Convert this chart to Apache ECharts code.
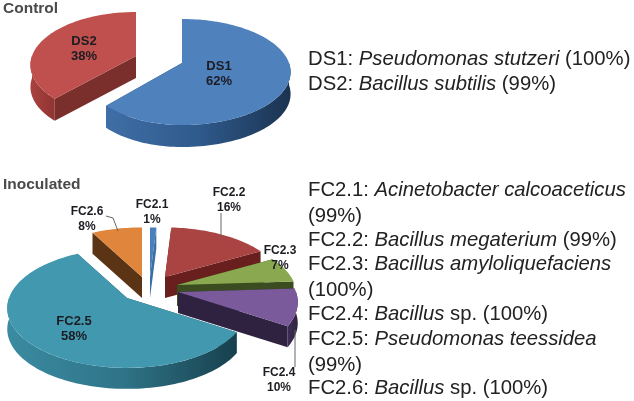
<!DOCTYPE html>
<html>
<head>
<meta charset="utf-8">
<title>Control / Inoculated</title>
<script src="https://cdn.jsdelivr.net/npm/echarts@6/dist/echarts.min.js"></script>
<style>
  html, body { margin: 0; padding: 0; background: #fff; }
  #chart { width: 634px; height: 401px; }
</style>
</head>
<body>
<div id="chart"></div>
<script>
// data
const controlNames = ['DS1', 'DS2']
const controlValues = [62, 38]
const inoculatedNames = ['FC2.1', 'FC2.2', 'FC2.3', 'FC2.4', 'FC2.5', 'FC2.6']
const inoculatedValues = [1, 16, 7, 10, 58, 8]
const panelTitles = ['Control', 'Inoculated']
// [plain, italic, plain]
const controlNotes = [
  ['DS1: ', 'Pseudomonas stutzeri', ' (100%)'],
  ['DS2: ', 'Bacillus subtilis', ' (99%)']
]
const inoculatedNotes = [
  ['FC2.1: ', 'Acinetobacter calcoaceticus', ''],
  ['(99%)', '', ''],
  ['FC2.2: ', 'Bacillus megaterium', ' (99%)'],
  ['FC2.3: ', 'Bacillus amyloliquefaciens', ''],
  ['(100%)', '', ''],
  ['FC2.4: ', 'Bacillus', ' sp. (100%)'],
  ['FC2.5: ', 'Pseudomonas teessidea', ''],
  ['(99%)', '', ''],
  ['FC2.6: ', 'Bacillus', ' sp. (100%)']
]

const FONT = '"Liberation Sans", Arial, sans-serif'

// shape of the tilted discs
const controlDisc = { rx: 107, ry: 51.5, depth: 22, k: 0.17, font: 'bold 13px ' + FONT }
const inoculatedDisc = { rx: 118, ry: 58, depth: 21, k: 0.17, font: 'bold 12px ' + FONT }

// look of each slice: exploded apex, label centre, colours, leader line
const controlLook = [
  { apex: [182, 63], rxLeft: 97, label: [219, 74], top: '#4f81bd', cut: '#2c4d74', wall: ['#3f6ea6', '#2f5a8c', '#1b3350'] },
  { apex: [136, 56], rxLeft: 104, label: [84, 49], top: '#c0504d', cut: '#7a2f2c', wall: ['#a8423f', '#9c3b38', '#8f3532'] }
]
const inoculatedLook = [
  { apex: [150, 277], label: [152, 212], top: '#4a7fbc', cut: '#3a6ea5', wall: ['#3a6ea5', '#3a6ea5'] },
  { apex: [165, 277], label: [229, 200], top: '#a94442', cut: '#681f1e', wall: ['#681f1e', '#681f1e'],
    leader: [[221, 213], [221, 237]] },
  { apex: [177, 285], label: [280, 258], top: '#8aa84f', cut: '#3b4d20', wall: ['#4a5f28', '#3b4d20'] },
  { apex: [178, 292], label: [279, 380], top: '#7a5a9a', cut: '#2e2240', wall: ['#3f2f58', '#2e2240'],
    leader: [[295, 330], [295, 367]], font: 'bold 12px ' + FONT },
  { apex: [127, 298], label: [74, 329], top: '#4198af', cut: '#1e5362', wall: ['#3a8ba1', '#2f7488', '#17404d'], font: 'bold 13px ' + FONT },
  { apex: [142, 277], label: [87, 219], top: '#e0863c', cut: '#5a3415', wall: ['#6a3e19', '#5a3415'],
    leader: [[106, 216], [113, 218], [118, 231]] }
]

// disc point at clockwise angle from 12 o'clock, with a bit of perspective
function discPoint(disc, look, angle) {
  const apex = look.apex
  const u = Math.sin(angle)
  const v = -Math.cos(angle)
  const s = 1 / (1 - disc.k * v)
  const rx = u < 0 && look.rxLeft ? look.rxLeft : disc.rx
  return [apex[0] + rx * u * s, apex[1] + disc.ry * v * s]
}

function arcPoints(disc, look, from, to) {
  const pts = []
  const n = Math.max(2, Math.ceil((to - from) / 0.03))
  for (let i = 0; i <= n; i++) {
    pts.push(discPoint(disc, look, from + (to - from) * i / n))
  }
  return pts
}

function hGradient(colors) {
  return new echarts.graphic.LinearGradient(0, 0, 1, 0, colors.map((c, i) => ({
    offset: i / (colors.length - 1),
    color: c
  })))
}

function drop(pts, depth) {
  return pts.map(p => [p[0], p[1] + depth])
}

function pieSeries(names, values, looks, disc, drawOrder) {
  const total = values.reduce((a, b) => a + b, 0)
  const starts = []
  values.reduce((acc, v, i) => { starts[i] = acc; return acc + v }, 0)
  return {
    type: 'custom',
    coordinateSystem: 'none',
    animation: false,
    silent: true,
    clip: false,
    data: drawOrder.map(i => ({ name: names[i], value: [values[i], i] })),
    renderItem(params, api) {
      const i = api.value(1)
      const look = looks[i]
      const from = starts[i] / total * Math.PI * 2
      const to = (starts[i] + values[i]) / total * Math.PI * 2
      const arc = arcPoints(disc, look, from, to)
      const children = []
      const poly = (points, fill) => children.push({
        type: 'polygon',
        shape: { points },
        style: { fill, stroke: null }
      })
      // cut faces
      const a = discPoint(disc, look, from)
      const b = discPoint(disc, look, to)
      poly([look.apex, a, drop([a], disc.depth)[0], drop([look.apex], disc.depth)[0]], look.cut)
      poly([look.apex, b, drop([b], disc.depth)[0], drop([look.apex], disc.depth)[0]], look.cut)
      // outer wall, only the part that faces the viewer
      const wallFrom = Math.max(from, Math.PI / 2)
      const wallTo = Math.min(to, Math.PI * 1.5)
      if (wallTo > wallFrom) {
        const rim = arcPoints(disc, look, wallFrom, wallTo)
        // left to right across the wall
        poly(rim.concat(drop(rim, disc.depth).reverse()), hGradient(look.wall))
      }
      // top face
      poly([look.apex].concat(arc), look.top)
      if (look.leader) {
        children.push({
          type: 'polyline',
          shape: { points: look.leader },
          style: { stroke: '#666', lineWidth: 1, fill: null }
        })
      }
      children.push({
        type: 'text',
        x: look.label[0],
        y: look.label[1],
        style: {
          text: names[i] + '\n' + values[i] + '%',
          font: look.font || disc.font,
          fill: '#1c1c22',
          align: 'center',
          verticalAlign: 'middle',
          lineHeight: 15
        }
      })
      return { type: 'group', children }
    }
  }
}

function noteText(line, x, y) {
  const text = line[0] + (line[1] ? '{i|' + line[1] + '}' : '') + line[2]
  return {
    type: 'text',
    x,
    y,
    silent: true,
    style: {
      text,
      fill: '#222',
      font: '20.3px ' + FONT,
      verticalAlign: 'middle',
      rich: { i: { fontStyle: 'italic', fontSize: 20.3, fontFamily: FONT, fill: '#222' } }
    }
  }
}

const controlNoteY = [59, 84]
const inoculatedNoteY = [190, 216, 240, 264, 290, 314, 339, 365, 388]
const titleBoxes = [[3, 9], [3, 185]]

const graphicItems = []
panelTitles.forEach((t, i) => {
  graphicItems.push({
    type: 'text',
    x: titleBoxes[i][0],
    y: titleBoxes[i][1],
    silent: true,
    style: { text: t, fill: '#4a4a4a', font: 'bold 15.5px ' + FONT, verticalAlign: 'middle' }
  })
})
controlNotes.forEach((l, i) => graphicItems.push(noteText(l, 308, controlNoteY[i])))
inoculatedNotes.forEach((l, i) => graphicItems.push(noteText(l, 308, inoculatedNoteY[i])))

const chart = echarts.init(document.getElementById('chart'), null, { renderer: 'canvas' })
chart.setOption({
  backgroundColor: '#fff',
  animation: false,
  graphic: graphicItems,
  series: [
    pieSeries(controlNames, controlValues, controlLook, controlDisc, [1, 0]),
    pieSeries(inoculatedNames, inoculatedValues, inoculatedLook, inoculatedDisc, [5, 0, 1, 2, 3, 4])
  ]
})
</script>
</body>
</html>
